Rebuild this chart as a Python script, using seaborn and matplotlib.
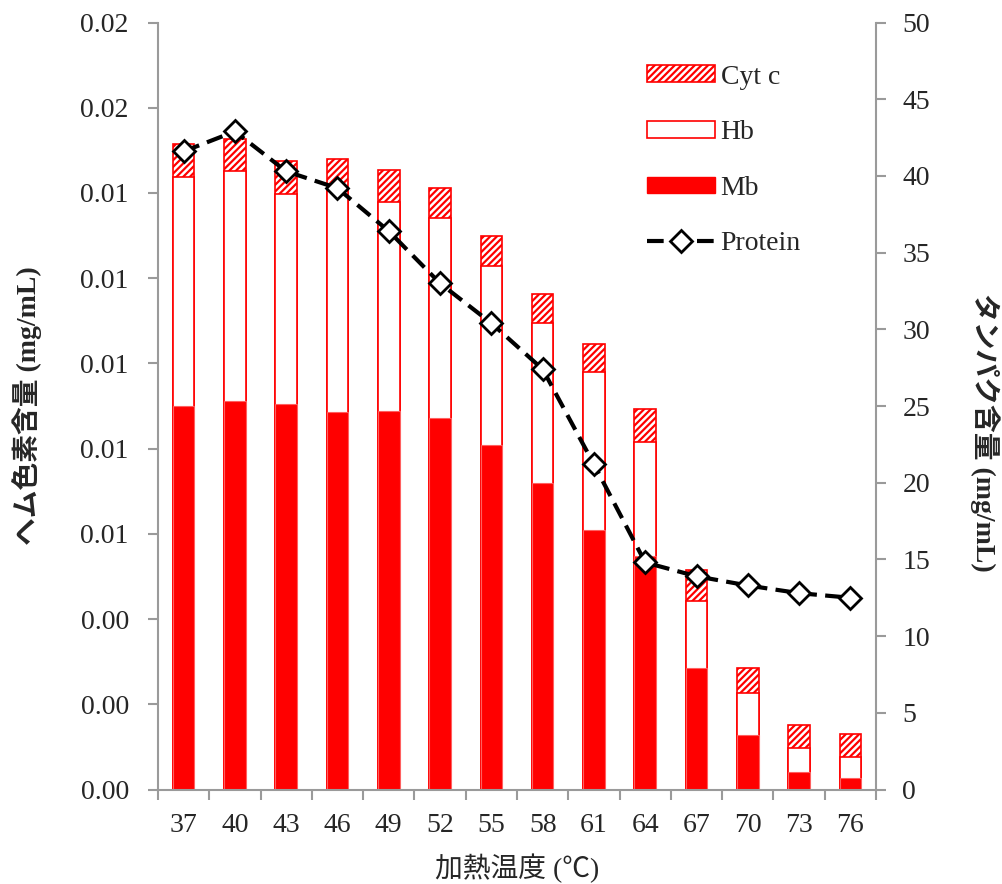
import numpy as np
import pandas as pd
import matplotlib
matplotlib.use("Agg")
import matplotlib.pyplot as plt
from matplotlib.patches import Patch
from matplotlib.lines import Line2D
from matplotlib.ticker import FormatStrFormatter, FixedLocator
import seaborn as sns

# Heating temperature (°C)
temps = ["37", "40", "43", "46", "49", "52", "55", "58", "61", "64", "67", "70", "73", "76"]
# Heme pigment content (mg/mL)
mb = [0.00901, 0.00912, 0.00904, 0.00887, 0.00889, 0.00871, 0.00808, 0.00719,
      0.00609, 0.00548, 0.00284, 0.00128, 0.00042, 0.00028]
hb = [0.00536, 0.00540, 0.00494, 0.00518, 0.00490, 0.00470, 0.00421, 0.00377,
      0.00371, 0.00267, 0.00159, 0.00098, 0.00056, 0.00049]
cyt = [0.00077, 0.00074, 0.00078, 0.00075, 0.00076, 0.00071, 0.00070, 0.00068,
       0.00066, 0.00079, 0.00072, 0.00060, 0.00053, 0.00053]
# Protein content (mg/mL)
protein = [41.6, 42.9, 40.3, 39.2, 36.4, 33.0, 30.4, 27.4, 21.2, 14.8, 13.9, 13.3, 12.8, 12.5]

sns.set_theme(style="white")
plt.rcParams["font.family"] = ["Liberation Serif", "Noto Sans CJK JP"]
plt.rcParams["hatch.linewidth"] = 1.6
plt.rcParams["hatch.color"] = "red"

RED = "#ff0000"
GRAY = "#9a9a9a"
FS = 20

df = pd.DataFrame({"temp": temps, "mb": mb, "hb": hb, "cyt": cyt})
df["mb_hb"] = df["mb"] + df["hb"]
df["total"] = df["mb_hb"] + df["cyt"]

fig = plt.figure(figsize=(10.03, 8.84), dpi=100)
ax = fig.add_axes([0.1575, 0.1069, 0.7159, 0.8676])

# Stacked bars drawn as overlapping cumulative layers: Cyt c on top, Hb, then Mb
layers = [
    ("total", dict(facecolor="white", edgecolor=RED, hatch="/////", linewidth=1.2)),
    ("mb_hb", dict(facecolor="white", edgecolor=RED, hatch=None, linewidth=1.2)),
    ("mb", dict(facecolor=RED, edgecolor="#ff6060", hatch=None, linewidth=0.8)),
]
for col, style in layers:
    n0 = len(ax.patches)
    sns.barplot(data=df, x="temp", y=col, order=temps, color=RED, saturation=1,
                width=0.42, errorbar=None, ax=ax)
    for p in ax.patches[n0:]:
        p.set_facecolor(style["facecolor"])
        p.set_edgecolor(style["edgecolor"])
        p.set_linewidth(style["linewidth"])
        if style["hatch"]:
            p.set_hatch(style["hatch"])

ax.set_ylim(0, 0.018)
ax.set_yticks(np.arange(0, 0.0181, 0.002))
ax.yaxis.set_major_formatter(FormatStrFormatter("%.2f"))
ax.set_xlim(-0.5, len(temps) - 0.5)

# Protein line on the secondary axis
ax2 = ax.twinx()
xpos = np.arange(len(temps))
sns.lineplot(x=xpos, y=protein, ax=ax2, color="black", linewidth=3,
             linestyle=(0, (4, 2)), marker="D", markersize=11,
             markerfacecolor="white", markeredgecolor="black",
             markeredgewidth=2, zorder=5)
ax2.set_ylim(0, 50)
ax2.set_yticks(np.arange(0, 51, 5))
ax2.set_xlim(-0.5, len(temps) - 0.5)

# Spines and ticks
for a in (ax, ax2):
    for s in a.spines.values():
        s.set_color(GRAY)
        s.set_linewidth(1.5)
    a.spines["top"].set_visible(False)
    a.grid(False)
ax.spines["right"].set_visible(False)
ax2.spines["left"].set_visible(False)
ax2.spines["bottom"].set_visible(False)

ax.tick_params(axis="y", which="major", direction="out", length=7, width=1.5,
               color=GRAY, labelsize=FS, pad=14, left=True)
ax2.tick_params(axis="y", which="major", direction="out", length=7, width=1.5,
                color=GRAY, labelsize=FS, pad=12, right=True)
ax.tick_params(axis="x", which="major", length=0, labelsize=FS, pad=17)
ax.xaxis.set_minor_locator(FixedLocator(np.arange(-0.5, len(temps), 1.0)))
ax.tick_params(axis="x", which="minor", direction="out", length=7, width=1.5,
               color=GRAY, bottom=True)

ax.set_xlabel("加熱温度 (℃)", fontsize=FS, labelpad=11)
ax.set_ylabel("ヘム色素含量 (mg/mL)", fontsize=FS, fontweight="bold", labelpad=28)
ax2.set_ylabel("タンパク含量 (mg/mL)", fontsize=FS, fontweight="bold",
               rotation=-90, va="bottom", labelpad=29, y=0.465)

handles = [
    Patch(facecolor="white", edgecolor=RED, hatch="/////", linewidth=1.2),
    Patch(facecolor="white", edgecolor=RED, linewidth=1.2),
    Patch(facecolor=RED, edgecolor=RED),
    Line2D([], [], color="black", linewidth=3, linestyle=(0, (4, 2)), marker="D",
           markersize=11, markerfacecolor="white", markeredgecolor="black",
           markeredgewidth=2),
]
ax2.legend(handles, ["Cyt c", "Hb", "Mb", "Protein"], loc="upper left",
           bbox_to_anchor=(0.645, 0.927), bbox_transform=fig.transFigure,
           frameon=False, fontsize=FS, handlelength=2.45, handleheight=0.54,
           handletextpad=0.2, labelspacing=1.1, borderpad=0, borderaxespad=0)

fig.savefig("out.png", dpi=100)
